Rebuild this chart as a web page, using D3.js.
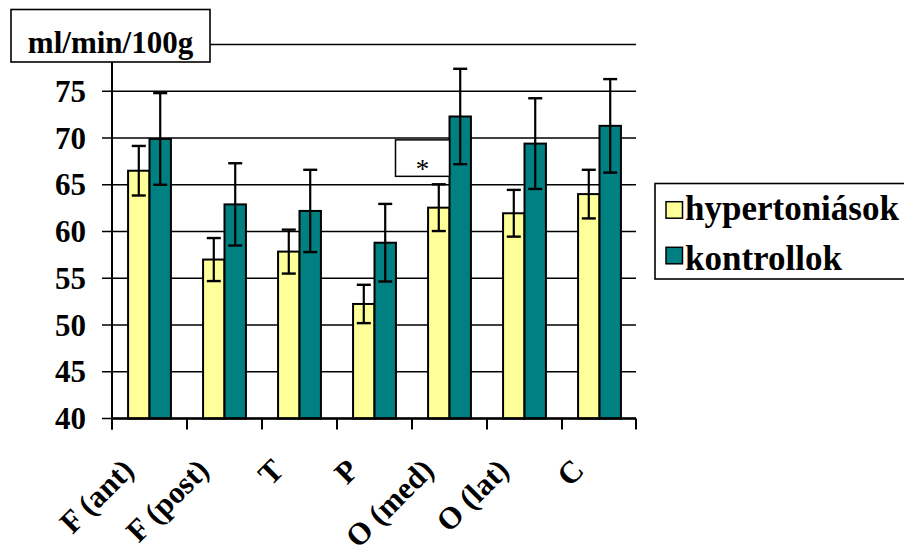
<!DOCTYPE html>
<html>
<head>
<meta charset="utf-8">
<script src="https://cdn.jsdelivr.net/npm/d3@7"></script>
</head>
<body>
<svg id="chart" width="904" height="554"></svg>
<script>
// Regional cerebral blood flow (ml/min/100g), mean ± error per region
const categories = ["F (ant)", "F (post)", "T", "P", "O (med)", "O (lat)", "C"];
const seriesNames = ["hypertoniások", "kontrollok"];
const hyperValues   = [66.5, 57.0, 57.85, 52.25, 62.55, 61.95, 64.0];
const hyperErrors   = [2.65, 2.3, 2.35, 2.05, 2.5, 2.5, 2.6];
const controlValues = [69.9, 62.9, 62.2, 58.8, 72.3, 69.4, 71.3];
const controlErrors = [4.9, 4.4, 4.4, 4.15, 5.1, 4.85, 5.0];
const yTicks = [40, 45, 50, 55, 60, 65, 70, 75, 80];
const unitLabel = "ml/min/100g";
const significanceMark = "*";

const colors = ["#FFFF99", "#008080"];

d3.select("body").style("margin", "0px").style("background", "#fff");
const svg = d3.select("#chart").style("display", "block");

const plot = { left: 112, right: 637, top: 44.5, bottom: 418.5 };

const x = d3.scaleBand().domain(categories).range([plot.left, plot.right]).padding(0);
const xSub = d3.scaleBand().domain(seriesNames).range([0, x.bandwidth()])
  .paddingInner(0).paddingOuter(0.75);
const y = d3.scaleLinear().domain([40, 80]).range([plot.bottom, plot.top]);

function styleText(sel, size, weight) {
  return sel.style("font-family", "'Liberation Serif'")
    .style("font-size", size + "px").style("font-weight", weight || "bold");
}

// Horizontal gridlines with left tick marks
svg.append("g").selectAll("line").data(yTicks).join("line")
  .attr("x1", plot.left - 10).attr("x2", plot.right - 1)
  .attr("y1", d => y(d)).attr("y2", d => y(d))
  .attr("stroke", "#000").attr("stroke-width", 1.6);

// Y tick labels (top value sits under the unit box)
styleText(svg.append("g").selectAll("text").data(yTicks.filter(d => d < 80)).join("text")
  .attr("x", 86).attr("y", d => y(d) + 10.5)
  .attr("text-anchor", "end"), 31)
  .text(d => d);

// Bars
const rows = categories.map((c, i) => ({
  cat: c,
  items: [
    { s: seriesNames[0], v: hyperValues[i], e: hyperErrors[i], color: colors[0] },
    { s: seriesNames[1], v: controlValues[i], e: controlErrors[i], color: colors[1] }
  ]
}));

const groups = svg.append("g").selectAll("g").data(rows).join("g")
  .attr("transform", d => `translate(${x(d.cat)},0)`);

groups.selectAll("rect").data(d => d.items).join("rect")
  .attr("x", d => xSub(d.s)).attr("width", xSub.bandwidth())
  .attr("y", d => y(d.v)).attr("height", d => y(40) - y(d.v))
  .attr("fill", d => d.color).attr("stroke", "#000").attr("stroke-width", 2);

// Error bars
const eb = groups.selectAll("g.err").data(d => d.items).join("g").attr("class", "err")
  .attr("transform", d => `translate(${xSub(d.s) + xSub.bandwidth() / 2},0)`);
eb.append("line").attr("x1", 0).attr("x2", 0)
  .attr("y1", d => y(d.v + d.e)).attr("y2", d => y(d.v - d.e))
  .attr("stroke", "#000").attr("stroke-width", 2.2);
eb.selectAll("line.cap").data(d => [d.v + d.e, d.v - d.e]).join("line").attr("class", "cap")
  .attr("x1", -7).attr("x2", 7).attr("y1", d => y(d)).attr("y2", d => y(d))
  .attr("stroke", "#000").attr("stroke-width", 2.4);

// Axes lines
svg.append("line").attr("x1", plot.left).attr("x2", plot.left)
  .attr("y1", y(80)).attr("y2", plot.bottom + 11)
  .attr("stroke", "#000").attr("stroke-width", 2);
svg.append("line").attr("x1", plot.left).attr("x2", plot.right - 1)
  .attr("y1", plot.bottom).attr("y2", plot.bottom)
  .attr("stroke", "#000").attr("stroke-width", 2.4);

// Category boundary ticks
const boundaries = categories.map(c => x(c)).concat([plot.right - 1]);
svg.append("g").selectAll("line").data(boundaries).join("line")
  .attr("x1", d => d).attr("x2", d => d)
  .attr("y1", plot.bottom).attr("y2", plot.bottom + 11)
  .attr("stroke", "#000").attr("stroke-width", 2);

// Rotated category labels
styleText(svg.append("g").selectAll("text").data(categories).join("text")
  .attr("transform", d => `translate(${x(d) + x.bandwidth() / 2 - 14},472) rotate(-45)`)
  .attr("text-anchor", "end"), 31)
  .text(d => d);

// Significance annotation next to O (med) control bar
const sigCat = categories[4];
const sigRight = x(sigCat) + xSub(seriesNames[1]);
const sigBox = svg.append("g");
sigBox.append("rect")
  .attr("x", sigRight - 54).attr("y", y(69.8))
  .attr("width", 54).attr("height", y(65.9) - y(69.8))
  .attr("fill", "#fff").attr("stroke", "#000").attr("stroke-width", 1.5);
styleText(sigBox.append("text")
  .attr("x", sigRight - 27).attr("y", y(65.9) + 2)
  .attr("text-anchor", "middle"), 27, "normal")
  .text(significanceMark);

// Unit label box
const unit = svg.append("g");
unit.append("rect").attr("x", 11).attr("y", 9.5).attr("width", 199).attr("height", 52.5)
  .attr("fill", "#fff").attr("stroke", "#000").attr("stroke-width", 1.6);
styleText(unit.append("text").attr("x", 110.5).attr("y", 53).attr("text-anchor", "middle"), 31)
  .text(unitLabel);

// Legend
const legend = svg.append("g");
legend.append("rect").attr("x", 655).attr("y", 183.5).attr("width", 260).attr("height", 95.5)
  .attr("fill", "#fff").attr("stroke", "#000").attr("stroke-width", 1.6);
const li = legend.selectAll("g.item").data(seriesNames).join("g").attr("class", "item");
li.append("rect").attr("x", 666).attr("y", (d, i) => 201.7 + i * 45.6)
  .attr("width", 16.5).attr("height", 16.5)
  .attr("fill", (d, i) => colors[i]).attr("stroke", "#000").attr("stroke-width", 1.5);
styleText(li.append("text").attr("x", 685).attr("y", (d, i) => 219.5 + i * 50), 35).text(d => d);
</script>
</body>
</html>
